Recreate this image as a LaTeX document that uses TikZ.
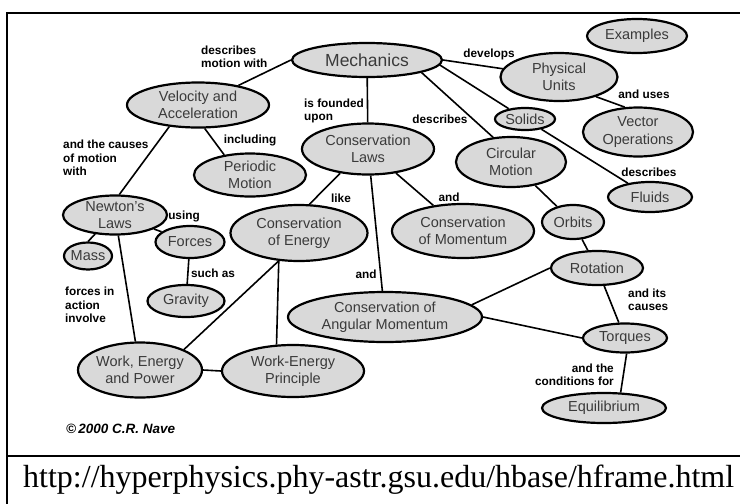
\documentclass[tikz,border=0pt]{standalone}
\usepackage{fontspec}
\setmainfont{Liberation Serif}
\setsansfont{Liberation Sans}
\usetikzlibrary{shapes.geometric}
\definecolor{ovalfill}{HTML}{D9D9D9}
\definecolor{ovaltext}{HTML}{3A3A3A}
\tikzset{
  concept/.style={ellipse, draw=black, fill=ovalfill, line width=2.2pt,
                  inner sep=-2pt, align=center, text=ovaltext,
                  font=\sffamily\fontsize{14.5}{17.5}\selectfont},
  link/.style={line width=1.6pt, draw=black},
  lbl/.style={font=\sffamily\bfseries\fontsize{11.8}{13.5}\selectfont,
              align=left, inner sep=0pt}
}

\begin{document}
\begin{tikzpicture}[x=1pt, y=-1pt]
  \useasboundingbox (0,0) rectangle (740,504);
  % frame and address strip
  \draw[line width=2.4pt] (7,504) -- (7,13) -- (740,13);
  \draw[line width=2.4pt] (7,456) -- (740,456);
  \node[anchor=base west, inner sep=0pt, font=\fontsize{32}{36}\selectfont] (url)
    at (23,487) {http://hyperphysics.phy-astr.gsu.edu/hbase/hframe.html};

  % concepts
  \node[concept, minimum width=150pt, minimum height=34pt,
        font=\sffamily\fontsize{17.5}{20}\selectfont] (mech) at (367,60) {Mechanics};
  \foreach \name/\cx/\cy/\w/\h/\txt in {
     vel/198/105/142/45/Velocity and\\Acceleration,
     peri/250/175/112/43/Periodic\\Motion,
     newt/115/215/104/39/Newton's\\Laws,
     forces/190/242/69/32/Forces,
     mass/88/256/48/27/Mass,
     grav/186/301/77/32/Gravity,
     coe/299/233/137/56/Conservation\\of Energy,
     wep/140/370/124/55/{Work, Energy\\and Power},
     wepr/293/371/142/52/Work-Energy\\Principle,
     cl/368/149/132/51/Conservation\\Laws,
     mom/463/231/142/54/Conservation\\of Momentum,
     angm/385/317/194/50/Conservation of\\Angular Momentum,
     circ/511/162/110/50/Circular\\Motion,
     solids/525/119/60/22/Solids,
     phys/559/77/117/48/Physical\\Units,
     examp/637/36/100/34/Examples,
     vect/638/132/110/49/Vector\\Operations,
     fluids/650/197/84/30/Fluids,
     orbits/573/222/62/34/Orbits,
     rot/597/268/92/34/Rotation,
     torq/625/338/84/29/Torques,
     equil/604/408/124/30/Equilibrium}
    \node[concept, minimum width=\w pt, minimum height=\h pt] (\name) at (\cx,\cy) {\txt};

  % links
  \foreach \a/\b in {mech.west/vel, mech/cl, mech.east/phys, mech.-4/solids,
     mech.-13/circ.126, phys.-28/vect.118, solids/fluids, circ/orbits,
     orbits/rot, rot.west/angm.8, rot/torq, angm.east/torq.west,
     torq.-84/equil.43, cl.-139/coe.70, cl/mom, cl/angm, vel.-74/peri.142,
     vel.217/newt.78, newt/forces, newt.-136/mass.north, newt/wep, forces/grav,
     coe.234/wep.25, coe.234/wepr.122, wep.east/wepr.west}
    \draw[link] (\a) -- (\b);

  % link words
  \node[lbl, anchor=west] (l-descmot) at (201,57) {describes\\motion with};
  \node[lbl, anchor=west] (l-found) at (304,111) {is founded\\upon};
  \node[lbl] (l-dev) at (489,54) {develops};
  \node[lbl] (l-desccirc) at (440,119) {describes};
  \node[lbl] (l-uses) at (644,94) {and uses};
  \node[lbl] (l-descfl) at (649,172) {describes};
  \node[lbl] (l-incl) at (250,140) {including};
  \node[lbl, anchor=west] (l-causes) at (63,158) {and the causes\\of motion\\with};
  \node[lbl] (l-like) at (341,198) {like};
  \node[lbl] (l-andmom) at (449,197) {and};
  \node[lbl] (l-andang) at (366,274) {and};
  \node[lbl] (l-using) at (184,216) {using};
  \node[lbl] (l-such) at (213,273) {such as};
  \node[lbl, anchor=west] (l-forces) at (65,305) {forces in\\action\\involve};
  \node[lbl, anchor=west] (l-its) at (628,300) {and its\\causes};
  \node[lbl, anchor=east, align=right] (l-cond) at (614,375) {and the\\conditions for};

  \node[anchor=west, inner sep=0pt,
        font=\sffamily\bfseries\itshape\fontsize{13.5}{15}\selectfont] (copy)
    at (66,429) {\textcopyright\,2000 C.R. Nave};
\end{tikzpicture}
\end{document}
